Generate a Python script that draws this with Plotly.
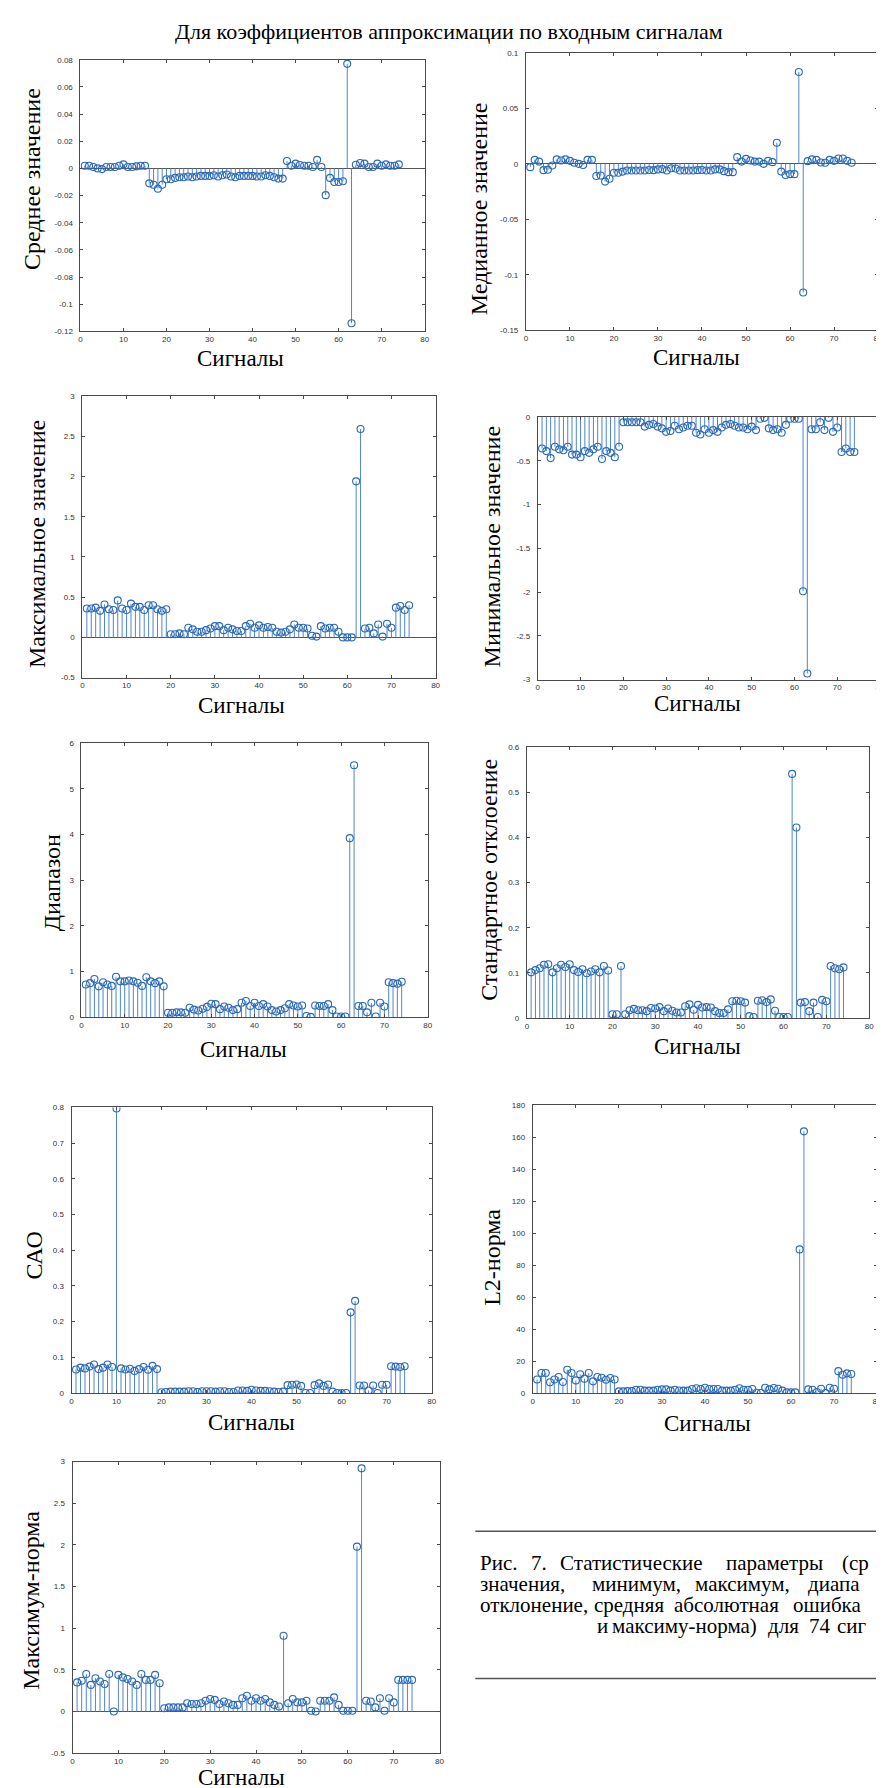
import plotly.graph_objects as go

W, H = 884, 1788

signals = list(range(1, 75))

mean_vals = [0.002, 0.002, 0.001, 0.0, -0.0005, 0.001, 0.001, 0.001, 0.002, 0.003,
             0.001, 0.001, 0.0015, 0.002, 0.002, -0.011, -0.012, -0.015, -0.012, -0.008,
             -0.008, -0.007, -0.0065, -0.0065, -0.006, -0.0065, -0.006, -0.0055, -0.0055, -0.0055,
             -0.005, -0.006, -0.005, -0.0045, -0.006, -0.0065, -0.0055, -0.0055, -0.0055, -0.0055,
             -0.006, -0.006, -0.005, -0.0055, -0.0065, -0.0075, -0.0075, 0.0055, 0.002, 0.0035,
             0.0025, 0.002, 0.002, 0.001, 0.0063, 0.001, -0.0197, -0.007, -0.01, -0.01,
             -0.0095, 0.077, -0.114, 0.0027, 0.004, 0.0035, 0.001, 0.001, 0.0035, 0.002,
             0.003, 0.002, 0.002, 0.003]

median_vals = [-0.003, 0.0036, 0.002, -0.0057, -0.0054, -0.0015, 0.004, 0.003, 0.004, 0.0027,
               0.001, 0.0, -0.001, 0.0036, 0.0036, -0.011, -0.0105, -0.016, -0.0135, -0.008,
               -0.008, -0.007, -0.006, -0.006, -0.006, -0.006, -0.006, -0.0055, -0.0057, -0.005,
               -0.0048, -0.006, -0.004, -0.0042, -0.006, -0.006, -0.006, -0.006, -0.0057, -0.0055,
               -0.006, -0.006, -0.005, -0.005, -0.0066, -0.0075, -0.0075, 0.006, 0.002, 0.0045,
               0.003, 0.002, 0.002, 0.0, 0.0027, 0.0015, 0.019, -0.007, -0.01, -0.0093,
               -0.0093, 0.0827, -0.1159, 0.0024, 0.004, 0.0036, 0.0012, 0.001, 0.0036, 0.0027,
               0.0048, 0.0048, 0.0027, 0.001]

max_vals = [0.36, 0.36, 0.37, 0.33, 0.41, 0.35, 0.34, 0.46, 0.36, 0.34,
            0.42, 0.38, 0.38, 0.34, 0.40, 0.40, 0.35, 0.33, 0.35, 0.04,
            0.04, 0.05, 0.04, 0.12, 0.10, 0.07, 0.07, 0.09, 0.11, 0.14,
            0.14, 0.09, 0.12, 0.10, 0.08, 0.08, 0.14, 0.17, 0.12, 0.15,
            0.12, 0.13, 0.12, 0.07, 0.06, 0.07, 0.10, 0.16, 0.12, 0.12,
            0.11, 0.02, 0.01, 0.14, 0.11, 0.12, 0.12, 0.07, 0.0, 0.0,
            0.0, 1.94, 2.59, 0.11, 0.12, 0.05, 0.16, 0.01, 0.17, 0.12,
            0.37, 0.39, 0.34, 0.40]

min_vals = [-0.36, -0.39, -0.47, -0.34, -0.37, -0.38, -0.34, -0.43, -0.43, -0.46,
            -0.39, -0.41, -0.37, -0.34, -0.48, -0.39, -0.41, -0.46, -0.34, -0.06,
            -0.06, -0.06, -0.06, -0.06, -0.11, -0.09, -0.08, -0.11, -0.13, -0.17,
            -0.16, -0.10, -0.14, -0.12, -0.10, -0.10, -0.18, -0.20, -0.14, -0.18,
            -0.15, -0.17, -0.12, -0.09, -0.08, -0.10, -0.12, -0.12, -0.14, -0.11,
            -0.15, -0.02, -0.01, -0.13, -0.15, -0.14, -0.18, -0.09, -0.02, -0.02,
            -0.02, -1.99, -2.93, -0.14, -0.14, -0.06, -0.15, -0.01, -0.17, -0.12,
            -0.40, -0.36, -0.40, -0.40]

range_vals = [0.71, 0.74, 0.83, 0.67, 0.76, 0.71, 0.68, 0.88, 0.78, 0.78,
              0.80, 0.78, 0.75, 0.68, 0.87, 0.78, 0.74, 0.78, 0.67, 0.09,
              0.09, 0.10, 0.10, 0.09, 0.20, 0.16, 0.14, 0.18, 0.22, 0.29,
              0.28, 0.17, 0.23, 0.20, 0.15, 0.17, 0.31, 0.35, 0.24, 0.31,
              0.24, 0.28, 0.23, 0.15, 0.12, 0.15, 0.19, 0.28, 0.25, 0.23,
              0.25, 0.02, 0.0, 0.25, 0.24, 0.24, 0.28, 0.15, 0.01, 0.01,
              0.01, 3.92, 5.52, 0.24, 0.24, 0.10, 0.31, 0.01, 0.31, 0.23,
              0.76, 0.74, 0.73, 0.77]

std_vals = [0.101, 0.106, 0.110, 0.118, 0.119, 0.101, 0.110, 0.118, 0.113, 0.119,
            0.106, 0.102, 0.108, 0.099, 0.103, 0.108, 0.101, 0.115, 0.105, 0.008,
            0.008, 0.115, 0.008, 0.017, 0.020, 0.017, 0.017, 0.015, 0.022, 0.021,
            0.024, 0.015, 0.021, 0.016, 0.012, 0.012, 0.026, 0.030, 0.018, 0.029,
            0.023, 0.024, 0.023, 0.015, 0.011, 0.011, 0.019, 0.037, 0.038, 0.037,
            0.034, 0.004, 0.002, 0.038, 0.039, 0.035, 0.041, 0.016, 0.002, 0.002,
            0.002, 0.541, 0.422, 0.034, 0.035, 0.015, 0.034, 0.002, 0.040, 0.037,
            0.115, 0.110, 0.108, 0.112]

mae_vals = [0.066, 0.071, 0.069, 0.074, 0.080, 0.067, 0.071, 0.080, 0.073, 0.797,
            0.069, 0.066, 0.068, 0.062, 0.067, 0.073, 0.065, 0.076, 0.067, 0.002,
            0.003, 0.004, 0.004, 0.004, 0.004, 0.005, 0.005, 0.003, 0.005, 0.005,
            0.005, 0.004, 0.005, 0.005, 0.003, 0.003, 0.007, 0.007, 0.006, 0.009,
            0.007, 0.006, 0.006, 0.005, 0.004, 0.003, 0.004, 0.022, 0.023, 0.024,
            0.020, 0.0, 0.0, 0.022, 0.027, 0.020, 0.024, 0.004, 0.0, 0.0,
            0.0, 0.226, 0.258, 0.021, 0.021, 0.007, 0.021, 0.0, 0.023, 0.023,
            0.075, 0.074, 0.073, 0.075]

l2_vals = [8.5, 12.5, 12.5, 6.7, 8.5, 10.0, 6.9, 14.6, 12.5, 7.9,
           11.7, 9.0, 12.5, 7.3, 10.0, 9.6, 8.3, 9.4, 8.5, 1.0,
           1.0, 1.2, 1.2, 2.0, 2.0, 1.5, 1.5, 1.5, 2.0, 2.3,
           2.3, 1.5, 2.0, 1.6, 1.5, 1.5, 2.5, 3.0, 2.5, 3.3,
           2.5, 2.5, 2.5, 1.5, 1.5, 1.5, 2.0, 3.0, 2.0, 2.0,
           2.5, 0.2, 0.0, 3.3, 2.3, 3.1, 2.7, 1.5, 0.4, 0.4,
           0.4, 89.9, 163.8, 2.3, 2.0, 0.6, 2.7, 0.0, 3.3, 2.7,
           13.7, 11.4, 12.3, 11.9]

maxnorm_vals = [0.35, 0.37, 0.45, 0.32, 0.40, 0.36, 0.33, 0.45, 0.0, 0.44,
                0.41, 0.39, 0.36, 0.32, 0.45, 0.38, 0.38, 0.44, 0.34, 0.04,
                0.05, 0.05, 0.05, 0.05, 0.10, 0.09, 0.09, 0.10, 0.13, 0.15,
                0.14, 0.09, 0.12, 0.10, 0.08, 0.08, 0.16, 0.19, 0.13, 0.16,
                0.13, 0.15, 0.11, 0.08, 0.06, 0.91, 0.10, 0.15, 0.11, 0.11,
                0.13, 0.01, 0.0, 0.13, 0.13, 0.13, 0.17, 0.08, 0.01, 0.01,
                0.01, 1.98, 2.92, 0.13, 0.12, 0.05, 0.16, 0.01, 0.16, 0.11,
                0.38, 0.38, 0.38, 0.38]

x_ticks = [0, 10, 20, 30, 40, 50, 60, 70, 80]
x_ticklabels = ["0", "10", "20", "30", "40", "50", "60", "70", "80"]

mean_ticks = [-0.12, -0.1, -0.08, -0.06, -0.04, -0.02, 0, 0.02, 0.04, 0.06, 0.08]
mean_ticklabels = ["-0.12", "-0.1", "-0.08", "-0.06", "-0.04", "-0.02", "0", "0.02", "0.04", "0.06", "0.08"]
median_ticks = [-0.15, -0.1, -0.05, 0, 0.05, 0.1]
median_ticklabels = ["-0.15", "-0.1", "-0.05", "0", "0.05", "0.1"]
max_ticks = [-0.5, 0, 0.5, 1, 1.5, 2, 2.5, 3]
max_ticklabels = ["-0.5", "0", "0.5", "1", "1.5", "2", "2.5", "3"]
min_ticks = [-3, -2.5, -2, -1.5, -1, -0.5, 0]
min_ticklabels = ["-3", "-2.5", "-2", "-1.5", "-1", "-0.5", "0"]
range_ticks = [0, 1, 2, 3, 4, 5, 6]
range_ticklabels = ["0", "1", "2", "3", "4", "5", "6"]
std_ticks = [0, 0.1, 0.2, 0.3, 0.4, 0.5, 0.6]
std_ticklabels = ["0", "0.1", "0.2", "0.3", "0.4", "0.5", "0.6"]
mae_ticks = [0, 0.1, 0.2, 0.3, 0.4, 0.5, 0.6, 0.7, 0.8]
mae_ticklabels = ["0", "0.1", "0.2", "0.3", "0.4", "0.5", "0.6", "0.7", "0.8"]
l2_ticks = [0, 20, 40, 60, 80, 100, 120, 140, 160, 180]
l2_ticklabels = ["0", "20", "40", "60", "80", "100", "120", "140", "160", "180"]
maxnorm_ticks = max_ticks
maxnorm_ticklabels = max_ticklabels

x_title = "Сигналы"
main_title = "Для коэффициентов аппроксимации по входным сигналам"

# (values, y range, ticks, ticklabels, ylabel, plot box px [x0,x1,y0,y1], ylabel pos px, xlabel pos px)
panels = [
    (mean_vals, [-0.12, 0.08], mean_ticks, mean_ticklabels, "Среднее значение",
     [71, 418, 48, 321], (22, 168), (232, 348)),
    (median_vals, [-0.15, 0.1], median_ticks, median_ticklabels, "Медианное значение",
     [520, 875, 41, 320], (473, 198), (692, 347)),
    (max_vals, [-0.5, 3], max_ticks, max_ticklabels, "Максимальное значение",
     [73, 429, 386, 669], (28, 535), (233, 697)),
    (min_vals, [-3, 0], min_ticks, min_ticklabels, "Минимальное значение",
     [532, 877, 407, 671], (486, 537), (693, 695)),
    (range_vals, [0, 6], range_ticks, range_ticklabels, "Диапазон",
     [72, 421, 735, 1010], (42, 875), (235, 1043)),
    (std_vals, [0, 0.6], std_ticks, std_ticklabels, "Стандартное отклоение",
     [521, 866, 739, 1011], (482, 872), (693, 1040)),
    (mae_vals, [0, 0.8], mae_ticks, mae_ticklabels, "САО",
     [62, 425, 1101, 1388], (24, 1250), (243, 1418)),
    (l2_vals, [0, 180], l2_ticks, l2_ticklabels, "L2-норма",
     [527, 874, 1099, 1388], (486, 1252), (703, 1419)),
    (maxnorm_vals, [-0.5, 3], maxnorm_ticks, maxnorm_ticklabels, "Максимум-норма",
     [63, 433, 1457, 1750], (21, 1596), (233, 1774)),
]

MARK = "#2a69b8"
STEM = "#4f86cc"
FRAME = "#4a4a4a"
SERIF = "Liberation Serif, Times New Roman, serif"
SANS = "Liberation Sans, Arial, sans-serif"


def px(x):
    return x / W


def py(y):
    return 1 - y / H


fig = go.Figure()
annotations = []
shapes = []

for i, (vals, yr, yt, ytl, ylab, box, ylpos, xlpos) in enumerate(panels):
    n = i + 1
    xa = "x" if n == 1 else f"x{n}"
    ya = "y" if n == 1 else f"y{n}"
    sx, sy = [], []
    for s, v in zip(signals, vals):
        sx += [s, s, None]
        sy += [0, v, None]
    fig.add_trace(go.Scatter(x=sx, y=sy, mode="lines", xaxis=xa, yaxis=ya,
                             line=dict(color=STEM, width=1), hoverinfo="skip",
                             showlegend=False))
    fig.add_trace(go.Scatter(x=signals, y=vals, mode="markers", xaxis=xa, yaxis=ya,
                             marker=dict(symbol="circle-open", size=7,
                                         color=MARK, line=dict(width=1.1, color=MARK)),
                             showlegend=False))
    x0, x1, y0, y1 = box
    xkey = "xaxis" if n == 1 else f"xaxis{n}"
    ykey = "yaxis" if n == 1 else f"yaxis{n}"
    common = dict(showline=True, linecolor=FRAME, linewidth=1, mirror="ticks",
                  ticks="inside", ticklen=3, tickcolor=FRAME, tickwidth=1,
                  showgrid=False, tickfont=dict(family=SANS, size=8, color="#333333"))
    fig.update_layout(**{
        xkey: dict(domain=[px(x0), px(x1)], anchor=ya, range=[0, 80],
                   tickvals=x_ticks, ticktext=x_ticklabels, zeroline=False,
                   ticklabelstandoff=0, **common),
        ykey: dict(domain=[py(y1), py(y0)], anchor=xa, range=yr,
                   tickvals=yt, ticktext=ytl, zeroline=True,
                   zerolinecolor="#555555", zerolinewidth=1.2,
                   ticklabelstandoff=5, **common),
    })
    annotations.append(dict(x=px(ylpos[0]), y=py(ylpos[1]), xref="paper", yref="paper",
                            text=ylab, textangle=-90, showarrow=False,
                            xanchor="center", yanchor="middle",
                            font=dict(family=SERIF, size=24, color="black")))
    annotations.append(dict(x=px(xlpos[0]), y=py(xlpos[1]), xref="paper", yref="paper",
                            text=x_title, showarrow=False,
                            xanchor="center", yanchor="middle",
                            font=dict(family=SERIF, size=23, color="black")))

annotations.append(dict(x=px(442), y=py(20), xref="paper", yref="paper",
                        text=main_title, showarrow=False, xanchor="center", yanchor="middle",
                        font=dict(family=SERIF, size=22, color="black")))

# caption (cropped at the right edge of the page, justified lines)
cap_lines = [
    (1559, [("Рис.", 472), ("7.", 523), ("Статистические", 552), ("параметры", 720), ("(ср", 837)]),
    (1580, [("значения,", 472), ("минимум,", 585), ("максимум,", 688), ("диапа", 802)]),
    (1601, [("отклонение,", 472), ("средняя", 587), ("абсолютная", 667), ("ошибка", 787)]),
    (1622, [("и", 590), ("максиму-норма)", 605), ("для", 762), ("74", 803), ("сиг", 832)]),
]
CAPF = dict(family=SERIF, size=21, color="black")
for yline, words in cap_lines:
    for w, xw in words:
        annotations.append(dict(x=px(xw), y=py(yline), xref="paper", yref="paper", text=w,
                                showarrow=False, xanchor="left", yanchor="middle", font=CAPF))

for yy in (1527, 1675):
    shapes.append(dict(type="line", xref="paper", yref="paper", x0=px(469), x1=1.0,
                       y0=py(yy), y1=py(yy), line=dict(color="#555555", width=1.5)))

fig.update_layout(width=W, height=H, margin=dict(l=0, r=0, t=0, b=0),
                  paper_bgcolor="white", plot_bgcolor="white",
                  annotations=annotations, shapes=shapes, showlegend=False)

fig.write_html("out.html")
